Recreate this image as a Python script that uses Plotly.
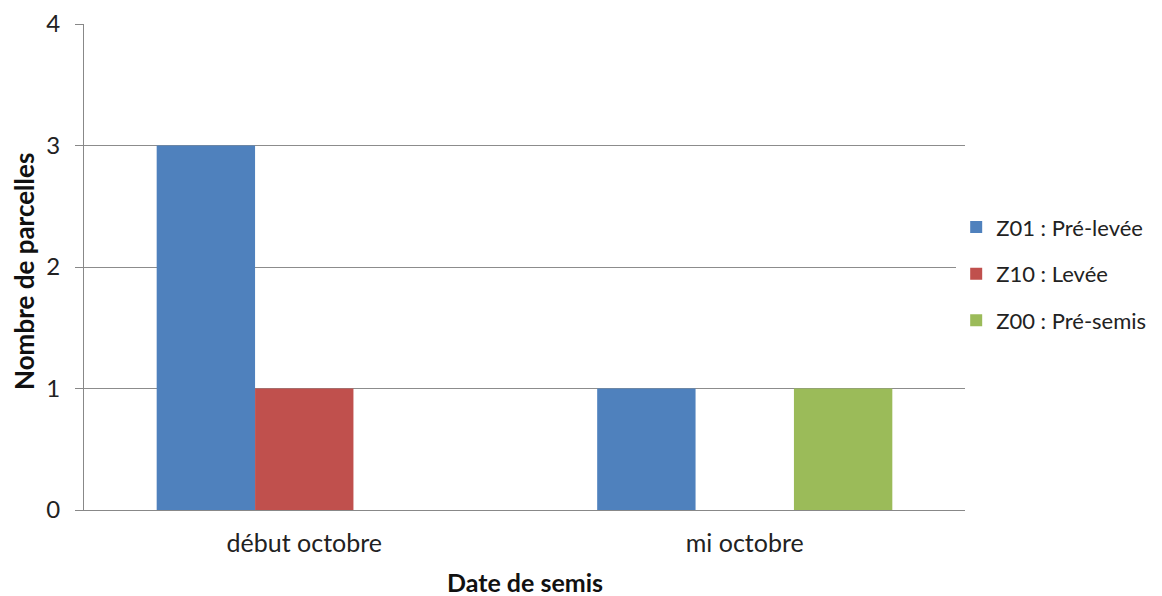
import plotly.graph_objects as go

categories = ["début octobre", "mi octobre"]
series_names = ["Z01 : Pré-levée", "Z10 : Levée", "Z00 : Pré-semis"]
z01_values = [3, 1]
z10_values = [1, 0]
z00_values = [0, 1]
colors = ["#4F81BD", "#C0504D", "#9BBB59"]
y_ticks = [0, 1, 2, 3, 4]

fig = go.Figure()
for i, (name, vals) in enumerate(zip(series_names, [z01_values, z10_values, z00_values])):
    fig.add_trace(go.Bar(
        x=categories, y=vals, name=name, marker_color=colors[i],
        marker_line_width=0, legendgroup=f"g{i}",
    ))

font_family = "Lato, Open Sans, sans-serif"
# page body has an 8px margin: figure is sized/offset to compensate
fig.update_layout(
    width=1154, height=588,
    margin=dict(l=76, r=197, t=16, b=86, autoexpand=False),
    paper_bgcolor="white", plot_bgcolor="white",
    barmode="group", bargap=0.33, bargroupgap=0,
    font=dict(family=font_family, color="#222", size=22),
    legend=dict(
        x=0.99, y=0.486, xanchor="left", yanchor="middle",
        font=dict(size=22, color="#222"),
        traceorder="grouped", tracegroupgap=15,
        itemwidth=30,
    ),
    xaxis=dict(
        showline=True, linecolor="#888", linewidth=1, automargin=False,
        ticks="outside", ticklen=11, tickcolor="rgba(0,0,0,0)",
        tickfont=dict(size=25, color="#222"),
    ),
    yaxis=dict(
        range=[0, 4], tickvals=y_ticks, showgrid=True, gridcolor="#8c8c8c", gridwidth=1,
        showline=True, linecolor="#888", linewidth=1, automargin=False,
        ticks="outside", ticklen=8, tickcolor="#888", ticklabelstandoff=10,
        tickfont=dict(size=24, color="#222"), zeroline=False,
    ),
    annotations=[
        dict(text="<b>Date de semis</b>", x=0.5, y=-0.148, xref="paper", yref="paper",
             xanchor="center", yanchor="middle", showarrow=False,
             font=dict(size=25, color="#111")),
        dict(text="<b>Nombre de parcelles</b>", x=-0.068, y=0.49, xref="paper", yref="paper",
             xanchor="center", yanchor="middle", showarrow=False, textangle=-90,
             font=dict(size=26, color="#111")),
    ],
)
fig.write_html("out.html")
